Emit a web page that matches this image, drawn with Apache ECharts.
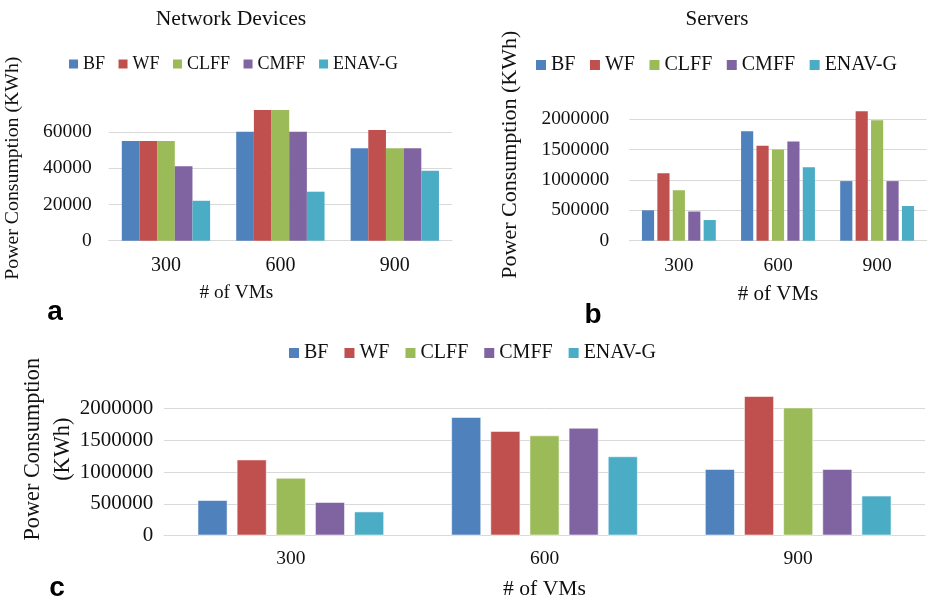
<!DOCTYPE html>
<html>
<head>
<meta charset="utf-8">
<script src="https://cdn.jsdelivr.net/npm/echarts@6/dist/echarts.min.js"></script>
<style>html,body{margin:0;padding:0;background:#fff;}#main{width:929px;height:601px;}</style>
</head>
<body>
<div id="main"></div>
<script>
const categories = ['300', '600', '900'];
const seriesNames = ['BF', 'WF', 'CLFF', 'CMFF', 'ENAV-G'];
const colors = ['#4F81BD', '#C0504D', '#9BBB59', '#8064A2', '#4BACC6'];

// (a) Network Devices
const netBF = [55000, 60000, 51000];
const netWF = [55000, 72000, 61000];
const netCLFF = [55000, 72000, 51000];
const netCMFF = [41000, 60000, 51000];
const netENAV = [22000, 27000, 38500];

// (b) Servers
const srvBF = [500000, 1800000, 980000];
const srvWF = [1110000, 1560000, 2130000];
const srvCLFF = [830000, 1500000, 1980000];
const srvCMFF = [480000, 1630000, 980000];
const srvENAV = [340000, 1210000, 570000];

// (c) Total
const totBF = [560000, 1870000, 1050000];
const totWF = [1200000, 1650000, 2200000];
const totCLFF = [910000, 1580000, 2020000];
const totCMFF = [530000, 1700000, 1050000];
const totENAV = [380000, 1250000, 630000];

const netData = [netBF, netWF, netCLFF, netCMFF, netENAV];
const srvData = [srvBF, srvWF, srvCLFF, srvCMFF, srvENAV];
const totData = [totBF, totWF, totCLFF, totCMFF, totENAV];

const SERIF = '"Liberation Serif", "Times New Roman", serif';
const SANS = '"Liberation Sans", Arial, sans-serif';
const TXT = '#111';
const GRID = '#d9d9d9';
const plain = v => String(v);

function xAxis(gridIndex, labelSize, margin, nameSize, nameGap, namePad) {
  return {
    type: 'category', gridIndex, data: categories,
    axisLine: { show: true, lineStyle: { color: GRID, width: 1 } },
    axisTick: { show: false },
    axisLabel: { fontSize: labelSize, fontFamily: SERIF, color: TXT, margin },
    name: '# of VMs', nameLocation: 'middle', nameGap, nameMoveOverlap: false,
    nameTextStyle: { fontSize: nameSize, fontFamily: SERIF, color: TXT, padding: namePad }
  };
}
function yAxis(gridIndex, max, interval, labelSize, margin, name, nameSize, nameGap, namePad, lineHeight) {
  return {
    type: 'value', gridIndex, min: 0, max, interval,
    axisLine: { show: false }, axisTick: { show: false },
    axisLabel: { fontSize: labelSize, fontFamily: SERIF, color: TXT, margin, formatter: plain, showMaxLabel: false },
    splitLine: { show: true, showMaxLine: false, lineStyle: { color: GRID, width: 1 } },
    name, nameLocation: 'middle', nameGap, nameMoveOverlap: false,
    nameTextStyle: { fontSize: nameSize, fontFamily: SERIF, color: TXT, padding: namePad, lineHeight: lineHeight || nameSize * 1.2 }
  };
}
function legend(left, top, fontSize, itemSize, itemGap) {
  return {
    left, top, orient: 'horizontal', icon: 'rect', itemWidth: itemSize, itemHeight: itemSize, itemGap,
    data: seriesNames, selectedMode: false,
    textStyle: { fontSize, fontFamily: SERIF, color: TXT }
  };
}
function makeSeries(dataSet, axisIndex, catGap, gap, border) {
  return dataSet.map((d, i) => ({
    type: 'bar', name: seriesNames[i], data: d,
    xAxisIndex: axisIndex, yAxisIndex: axisIndex,
    barCategoryGap: catGap, barGap: gap,
    itemStyle: border ? { color: colors[i], borderColor: 'rgba(255,255,255,0.55)', borderWidth: 1 } : { color: colors[i] },
    emphasis: { disabled: true },
    animation: false
  }));
}

const option = {
  backgroundColor: '#fff',
  animation: false,
  color: colors,
  grid: [
    { left: 108, top: 95.5, width: 344, height: 145.2 },
    { left: 629.3, top: 88.7, width: 297.4, height: 152 },
    { left: 164, top: 377, width: 761, height: 159.7 }
  ],
  legend: [
    legend(64, 50, 18, 9, 13.5),
    legend(531, 50, 20, 10, 14.5),
    legend(284, 338, 20, 10, 16)
  ],
  xAxis: [
    xAxis(0, 20, 15, 19.3, 42.6, [0, 88, 0, 0]),
    xAxis(1, 19.5, 15.5, 21, 42.8, 0),
    xAxis(2, 19.5, 13.5, 21.6, 42.5, 0)
  ],
  yAxis: [
    yAxis(0, 80000, 20000, 19.5, 17, 'Power Consumption (KWh)', 19.8, 84, 0),
    yAxis(1, 2500000, 500000, 19.4, 20, 'Power Consumption (KWh)', 22, 106, [0, 0, 0, 20]),
    yAxis(2, 2500000, 500000, 21, 10.7, 'Power Consumption\n(KWh)', 22.3, 86, [0, 0, 0, 14], 30)
  ],
  series: [].concat(
    makeSeries(netData, 0, '22.8%', '0%', false),
    makeSeries(srvData, 1, '25.5%', '27%', false),
    makeSeries(totData, 2, '26.4%', '30%', true)
  ),
  graphic: [
    { type: 'text', x: 231, y: 19, silent: true, style: { text: 'Network Devices', fontSize: 21.6, fontFamily: SERIF, fill: TXT, align: 'center', verticalAlign: 'middle' } },
    { type: 'text', x: 717, y: 19.5, silent: true, style: { text: 'Servers', fontSize: 21, fontFamily: SERIF, fill: TXT, align: 'center', verticalAlign: 'middle' } },
    { type: 'text', x: 55, y: 312, silent: true, style: { text: 'a', fontSize: 28, fontWeight: 'bold', fontFamily: SANS, fill: '#000', align: 'center', verticalAlign: 'middle' } },
    { type: 'text', x: 593, y: 315, silent: true, style: { text: 'b', fontSize: 28, fontWeight: 'bold', fontFamily: SANS, fill: '#000', align: 'center', verticalAlign: 'middle' } },
    { type: 'text', x: 57, y: 588, silent: true, style: { text: 'c', fontSize: 28, fontWeight: 'bold', fontFamily: SANS, fill: '#000', align: 'center', verticalAlign: 'middle' } }
  ]
};

const chart = echarts.init(document.getElementById('main'), null, { renderer: 'canvas' });
chart.setOption(option);
</script>
</body>
</html>
